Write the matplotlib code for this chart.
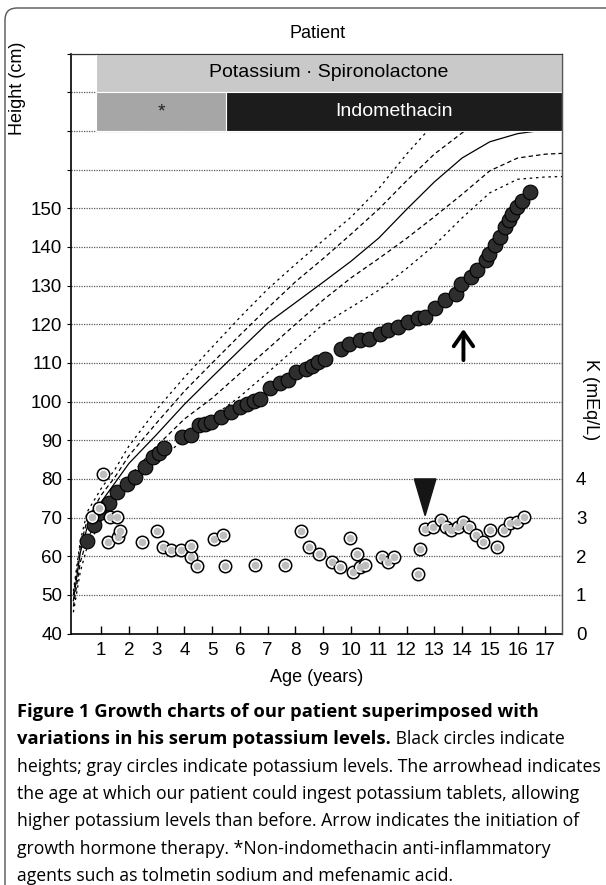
"""
Growth chart of the patient with serum potassium levels superimposed.
"""
import matplotlib
matplotlib.use("Agg")
import matplotlib.pyplot as plt
from matplotlib.patches import FancyBboxPatch
from matplotlib.transforms import IdentityTransform

plt.rcParams["font.family"] = ["Liberation Sans", "DejaVu Sans"]

# reference growth curves (cm) by age (years)
ref_age = [0, 0.25, 0.5, 1, 1.5, 2, 3, 4, 5, 6, 7, 8, 9, 10, 11, 12, 13, 14, 15, 16, 17, 17.6]
ref_plus2 = [51, 64, 71.5, 77.5, 82.5, 88.5, 98, 106.3, 114.1, 121.8, 129.1, 135.5, 141.7,
             147.7, 155.1, 164, 172, 178, 181, 182, 182.5, 182.5]
ref_plus1 = [50, 62.5, 69.5, 75.8, 80.5, 86, 94.5, 102.7, 110, 117.2, 124.2, 131, 137,
             143.3, 149.8, 157.1, 164, 169.5, 173, 175, 176, 176]
ref_mean = [48.5, 61, 67.5, 74, 79, 84, 91.5, 99.3, 106.4, 113.4, 120.3, 125.6, 130.9,
            136.3, 142.3, 149.7, 156.8, 163, 167.2, 169.3, 170.3, 170.5]
ref_minus1 = [47, 58.5, 64.5, 71, 76.5, 80.5, 88.5, 95.5, 100.9, 107.3, 113.6, 120, 126.3,
              132, 137, 142.2, 147.8, 153.6, 159.7, 163, 164, 164.2]
ref_minus2 = [45.5, 56, 62.5, 69, 74, 78, 84, 90.5, 96, 101.3, 107.5, 113.8, 120,
              124.4, 128.8, 134.4, 140.4, 147.5, 154, 157.5, 158.1, 158.2]

# patient height (black circles)
height_age = [0.50, 0.73, 0.91, 1.27, 1.56, 1.92, 2.22, 2.57, 2.87, 3.08, 3.28, 3.93, 4.23,
              4.53, 4.75, 4.94, 5.30, 5.66, 6.01, 6.25, 6.50, 6.72, 7.08, 7.44, 7.73, 8.03,
              8.38, 8.60, 8.80, 9.08, 9.63, 9.93, 10.34, 10.64, 11.05, 11.35, 11.71, 12.06,
              12.42, 12.65, 13.01, 13.37, 13.78, 13.96, 14.31, 14.55, 14.85, 14.97, 15.20,
              15.38, 15.56, 15.68, 15.80, 15.98, 16.15, 16.45]
height_cm = [63.9, 68.1, 71.1, 73.7, 76.7, 78.8, 80.5, 83.1, 85.7, 86.8, 87.9, 90.9, 91.3,
             93.9, 94.3, 94.8, 96.0, 97.3, 98.6, 99.5, 100.2, 100.8, 103.4, 104.7, 105.5, 107.7,
             108.5, 109.3, 110.3, 111.1, 113.7, 115.0, 115.9, 116.3, 117.6, 118.4, 119.3, 120.6,
             121.5, 122.0, 124.1, 126.2, 127.9, 130.5, 132.2, 134.0, 136.5, 138.3, 140.4,
             142.6, 145.1, 146.9, 148.6, 150.3, 152.0, 154.2]

# serum potassium (gray circles)
k_age = [0.67, 0.91, 1.05, 1.24, 1.33, 1.56, 1.62, 1.68, 2.48, 3.02, 3.22, 3.52, 3.88, 4.23,
         4.25, 4.47, 5.08, 5.39, 5.45, 6.55, 7.61, 8.20, 8.50, 8.83, 9.33, 9.59, 9.98, 10.08,
         10.22, 10.34, 10.52, 11.11, 11.35, 11.56, 12.43, 12.48, 12.68, 12.95, 13.25, 13.43,
         13.60, 13.84, 14.05, 14.25, 14.49, 14.77, 15.00, 15.26, 15.52, 15.74, 15.98, 16.24]
k_meq = [3.02, 3.24, 4.12, 2.36, 3.02, 3.02, 2.50, 2.66, 2.36, 2.66, 2.25, 2.16, 2.16, 1.99,
         2.27, 1.75, 2.44, 2.55, 1.75, 1.77, 1.77, 2.66, 2.25, 2.06, 1.86, 1.71, 2.46, 1.58,
         2.05, 1.73, 1.77, 1.97, 1.86, 1.97, 1.55, 2.18, 2.70, 2.75, 2.95, 2.75, 2.68, 2.75,
         2.89, 2.75, 2.55, 2.37, 2.68, 2.25, 2.68, 2.87, 2.89, 3.02]

# medication bars
therapy_labels = ["Potassium \u00b7 Spironolactone", "*", "Indomethacin"]
therapy_start = [0.82, 0.82, 5.50]
therapy_end = [17.6, 5.50, 17.6]
therapy_row = [185, 175, 175]

arrowhead_age = 12.67   # potassium tablets
gh_age = 14.05          # growth hormone start

caption_bold = ["Figure 1 Growth charts of our patient superimposed with",
                "variations in his serum potassium levels."]
caption_lines = [
    " Black circles indicate",
    "heights; gray circles indicate potassium levels. The arrowhead indicates",
    "the age at which our patient could ingest potassium tablets, allowing",
    "higher potassium levels than before. Arrow indicates the initiation of",
    "growth hormone therapy. *Non-indomethacin anti-inflammatory",
    "agents such as tolmetin sodium and mefenamic acid.",
]

fig = plt.figure(figsize=(6.06, 8.85), dpi=100)
ax = fig.add_axes([0.1165, 0.2841, 0.8109, 0.6553])
ax.set_xlim(-0.1, 17.6)
ax.set_ylim(40, 190)

# reference curves
ax.plot(ref_age, ref_plus2, color="black", lw=0.9, ls=(0, (2, 3)), zorder=3)
ax.plot(ref_age, ref_plus1, color="black", lw=0.9, ls=(0, (3.5, 2.5)), zorder=3)
ax.plot(ref_age, ref_mean, color="black", lw=0.9, zorder=3)
ax.plot(ref_age, ref_minus1, color="black", lw=0.9, ls=(0, (3.5, 2.5)), zorder=3)
ax.plot(ref_age, ref_minus2, color="black", lw=0.9, ls=(0, (2, 3)), zorder=3)

# heights
ax.scatter(height_age, height_cm, s=112, color="#2e2e2e", edgecolor="black", lw=0.8, zorder=4)

# potassium on right axis (0-15 maps onto 40-190 cm)
ax2 = ax.twinx()
ax2.set_ylim(0, 15)
ax2.scatter(k_age, k_meq, s=80, color="white", edgecolor="black", lw=1.1, zorder=5)
ax2.scatter(k_age, k_meq, s=30, color="#bdbdbd", lw=0, zorder=6)
ax2.fill([arrowhead_age - 0.39, arrowhead_age + 0.39, arrowhead_age], [4.0, 4.0, 3.05],
         color="#151515", zorder=6)
ax2.annotate("", xy=(gh_age, 7.95), xytext=(gh_age, 7.0),
             arrowprops=dict(arrowstyle="->,head_length=0.5,head_width=0.35",
                             lw=2.8, color="black", mutation_scale=20), zorder=6)

# therapy bars
bar_colors = ["#c9c9c9", "#a6a6a6", "#1c1c1c"]
text_colors = ["black", "#222222", "white"]
for label, start, end, row, fc, tc in zip(therapy_labels, therapy_start, therapy_end,
                                          therapy_row, bar_colors, text_colors):
    ax.barh(row, end - start, left=start, height=10, color=fc, edgecolor="white",
            lw=0.8, zorder=7)
    ax.text((start + end) / 2, row, label, ha="center", va="center", fontsize=14,
            color=tc, zorder=8)

# axes styling
ax.set_yticks(range(40, 191, 10))
ax.set_yticklabels([str(v) if v <= 150 else "" for v in range(40, 191, 10)], fontsize=13.5)
ax.set_xticks(range(1, 18))
ax.set_xticklabels([str(v) for v in range(1, 18)], fontsize=13.5)
ax.tick_params(axis="x", direction="in", length=6, width=1, pad=6)
ax.tick_params(axis="y", direction="out", length=3, width=0.8, pad=3)
ax.grid(axis="y", ls=(0, (1, 1)), color="#5a5a5a", lw=0.9, zorder=0)
ax.set_axisbelow(True)
ax2.set_yticks(range(0, 5))
ax2.set_yticklabels([str(v) for v in range(0, 5)], fontsize=13.5)
ax2.tick_params(axis="y", direction="in", length=0, pad=10)
for name in ["left", "bottom"]:
    ax.spines[name].set_linewidth(1.2)
for a in (ax, ax2):
    a.spines["top"].set_color("#333333")
    a.spines["top"].set_linewidth(0.8)
    a.spines["right"].set_color("#555555")
    a.spines["right"].set_linewidth(0.9)
ax2.spines["left"].set_visible(False)
ax2.spines["bottom"].set_visible(False)

ax.set_xlabel("Age (years)", fontsize=13, labelpad=7)
fig.text(18 / 606, 1 - 88 / 885, "Height (cm)", rotation=90, ha="center", va="center",
         fontsize=13)
fig.text(590 / 606, 1 - 400 / 885, "K (mEq/L)", rotation=270, ha="center", va="center",
         fontsize=13)
fig.text(318 / 606, 1 - 33 / 885, "Patient", ha="center", va="center", fontsize=13)

# caption, fitted to the page width
renderer = fig.canvas.get_renderer()


def text_width(s, **kw):
    t = fig.text(0, 0, s, **kw)
    w = t.get_window_extent(renderer).width
    t.remove()
    return w


cap_font = ["Open Sans", "DejaVu Sans"]
reg_size = 12 * 580 / text_width(caption_lines[1], family=cap_font, fontsize=12)
bold_size = 12 * 520 / text_width(caption_bold[0], family=cap_font, fontsize=12,
                                  weight="bold")
x0 = 17 / 606
line_gap = 27.3
base = 717
fig.text(x0, 1 - base / 885, caption_bold[0], family=cap_font, fontsize=bold_size,
         weight="bold", va="baseline")
fig.text(x0, 1 - (base + line_gap) / 885, caption_bold[1], family=cap_font,
         fontsize=bold_size, weight="bold", va="baseline")
bw = text_width(caption_bold[1], family=cap_font, fontsize=bold_size, weight="bold")
fig.text(x0 + bw / 606, 1 - (base + line_gap) / 885, caption_lines[0], family=cap_font,
         fontsize=reg_size, va="baseline")
for i, line in enumerate(caption_lines[1:], start=2):
    fig.text(x0, 1 - (base + i * line_gap) / 885, line, family=cap_font,
             fontsize=reg_size, va="baseline")

# rounded frame around the figure (cut off at right and bottom)
frame = FancyBboxPatch((5, -30), 640, 907, boxstyle="round,pad=0,rounding_size=12",
                       transform=IdentityTransform(), fill=False, ec="#555555", lw=1)
fig.add_artist(frame)

fig.savefig("out.png", dpi=100)
